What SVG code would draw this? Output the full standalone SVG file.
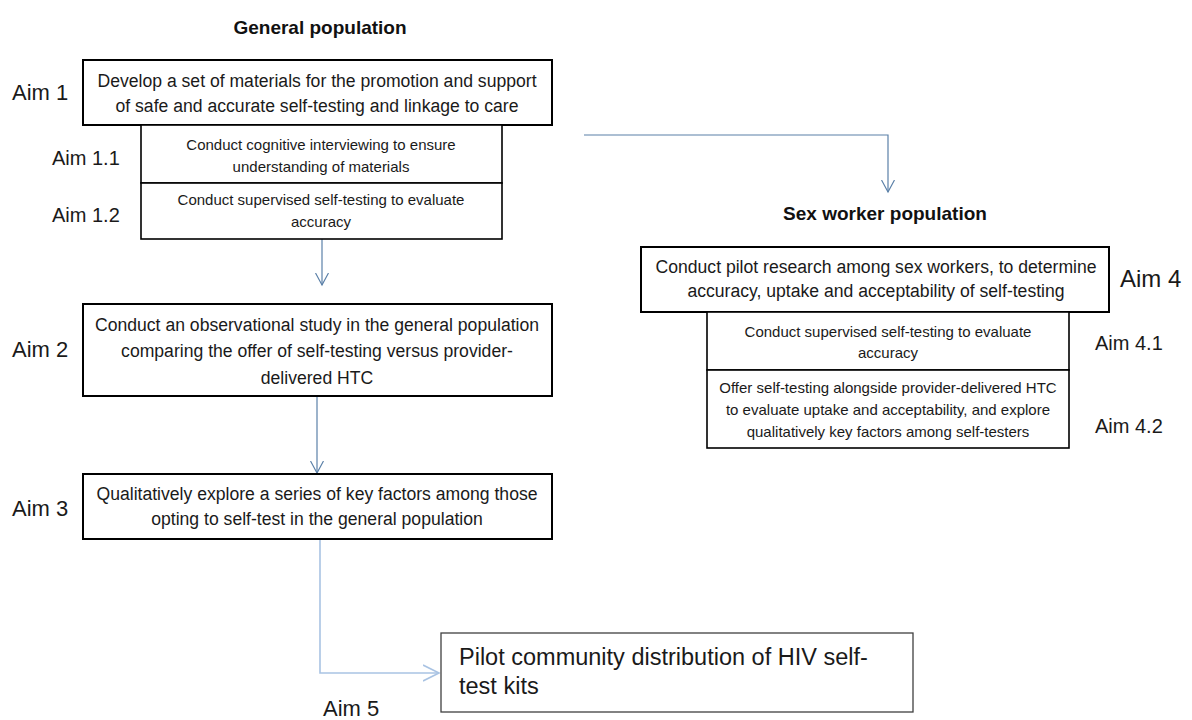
<svg xmlns="http://www.w3.org/2000/svg" width="1192" height="720" viewBox="0 0 1192 720">
<style>
  .bg{fill:#ffffff}
  .box{fill:#ffffff;stroke:#000000;stroke-width:2}
  .sub{fill:#ffffff;stroke:#000000;stroke-width:1.6}
  .box5{fill:#ffffff;stroke:#404040;stroke-width:1.3}
  .t{font-family:"Liberation Sans",Arial,sans-serif;font-size:17.6px;fill:#1a1a1a;text-anchor:middle}
  .ts{font-family:"Liberation Sans",Arial,sans-serif;font-size:15px;letter-spacing:0;fill:#1a1a1a;text-anchor:middle}
  .t5{font-family:"Liberation Sans",Arial,sans-serif;font-size:23.5px;fill:#1a1a1a}
  .aim{font-family:"Liberation Sans",Arial,sans-serif;font-size:22px;fill:#1a1a1a}
  .aims{font-family:"Liberation Sans",Arial,sans-serif;font-size:20px;fill:#1a1a1a}
  .head{font-family:"Liberation Sans",Arial,sans-serif;font-size:19px;font-weight:bold;fill:#111111;text-anchor:middle}
  .con{fill:none;stroke:#5b80a8;stroke-width:1.2}
  .conl{fill:none;stroke:#a9c3e3;stroke-width:1.6}
</style>
<defs>
  <marker id="arr" markerUnits="userSpaceOnUse" viewBox="0 0 14 14" refX="12" refY="7" markerWidth="14" markerHeight="14" orient="auto">
    <path d="M0,0.5 L12,7 L0,13.5" fill="none" stroke="#5b80a8" stroke-width="1.2"/>
  </marker>
  <marker id="arrl" markerUnits="userSpaceOnUse" viewBox="0 0 18 18" refX="16" refY="9" markerWidth="18" markerHeight="18" orient="auto">
    <path d="M0,1 L16,9 L0,17" fill="none" stroke="#a9c3e3" stroke-width="1.6"/>
  </marker>
</defs>
<rect class="bg" x="0" y="0" width="1192" height="720"/>

<text class="head" x="320" y="34">General population</text>
<text class="head" x="885" y="220">Sex worker population</text>

<g id="connectors">
  <path class="con" d="M322,239 L322,285" marker-end="url(#arr)"/>
  <path class="con" d="M317,396 L317,473" marker-end="url(#arr)"/>
  <path class="con" d="M584,135 L888,135 L888,192" marker-end="url(#arr)"/>
  <path class="conl" d="M320,539 L320,673 L439,673" marker-end="url(#arrl)"/>
</g>

<g id="aim1">
  <rect class="box" x="83" y="60" width="469" height="65"/>
  <text class="t" x="317" y="87">Develop a set of materials for the promotion and support</text>
  <text class="t" x="317" y="112">of safe and accurate self-testing and linkage to care</text>
  <text class="aim" x="12" y="100">Aim 1</text>
</g>

<g id="aim1_1">
  <rect class="sub" x="141" y="125" width="361" height="58"/>
  <text class="ts" x="321" y="150">Conduct cognitive interviewing to ensure</text>
  <text class="ts" x="321" y="172">understanding of materials</text>
  <text class="aims" x="52" y="165">Aim 1.1</text>
</g>

<g id="aim1_2">
  <rect class="sub" x="141" y="183" width="361" height="56"/>
  <text class="ts" x="321" y="205">Conduct supervised self-testing to evaluate</text>
  <text class="ts" x="321" y="227">accuracy</text>
  <text class="aims" x="52" y="222">Aim 1.2</text>
</g>

<g id="aim2">
  <rect class="box" x="83" y="304" width="469" height="92"/>
  <text class="t" x="317" y="331">Conduct an observational  study in the general population</text>
  <text class="t" x="317" y="357">comparing the offer of self-testing versus provider-</text>
  <text class="t" x="317" y="384">delivered  HTC</text>
  <text class="aim" x="12" y="357">Aim 2</text>
</g>

<g id="aim3">
  <rect class="box" x="83" y="474" width="469" height="65"/>
  <text class="t" x="317" y="500">Qualitatively explore a series of key factors among those</text>
  <text class="t" x="317" y="525">opting to self-test in the general population</text>
  <text class="aim" x="12" y="516">Aim 3</text>
</g>

<g id="aim4">
  <rect class="box" x="641" y="247" width="468" height="65"/>
  <text class="t" x="876" y="273">Conduct pilot research among sex workers, to determine</text>
  <text class="t" x="876" y="297">accuracy, uptake and acceptability of self-testing</text>
  <text class="aim" x="1120" y="287" style="font-size:24px">Aim 4</text>
</g>

<g id="aim4_1">
  <rect class="sub" x="707" y="312" width="362" height="58"/>
  <text class="ts" x="888" y="337">Conduct supervised self-testing to evaluate</text>
  <text class="ts" x="888" y="358">accuracy</text>
  <text class="aims" x="1095" y="350">Aim 4.1</text>
</g>

<g id="aim4_2">
  <rect class="sub" x="707" y="370" width="362" height="78"/>
  <text class="ts" x="888" y="393">Offer self-testing alongside  provider-delivered HTC</text>
  <text class="ts" x="888" y="415">to evaluate uptake and acceptability, and explore</text>
  <text class="ts" x="888" y="437">qualitatively key factors among self-testers</text>
  <text class="aims" x="1095" y="433">Aim 4.2</text>
</g>

<g id="aim5">
  <rect class="box5" x="441" y="633" width="472" height="79"/>
  <text class="t5" x="459" y="665">Pilot community distribution of HIV self-</text>
  <text class="t5" x="459" y="694">test kits</text>
  <text class="aim" x="323" y="716">Aim 5</text>
</g>
</svg>
